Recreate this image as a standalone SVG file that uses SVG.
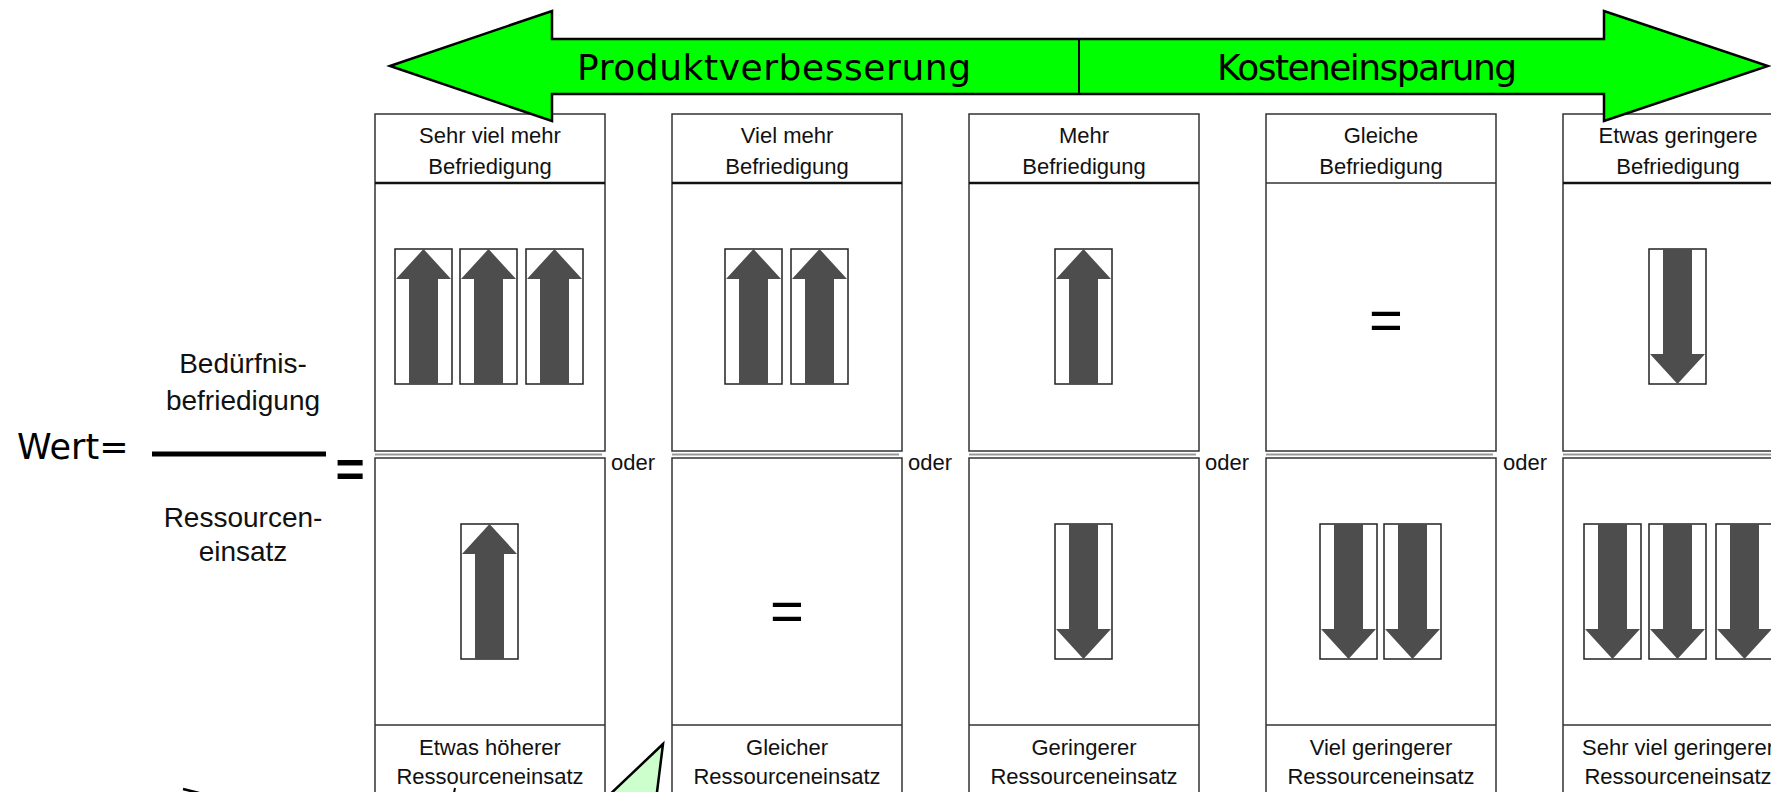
<svg xmlns="http://www.w3.org/2000/svg" xmlns:xlink="http://www.w3.org/1999/xlink" width="1771" height="792" viewBox="0 0 1771 792">
<style>
.box{fill:#fff;stroke:#333;stroke-width:1.5}
.hl{stroke:#111;stroke-width:2.5}
.fl{stroke:#333;stroke-width:1.5}
.gl{stroke:#999;stroke-width:2}
.t{font-family:"Liberation Sans",Arial,sans-serif;font-size:22px;fill:#111;text-anchor:middle}
.oder{font-family:"Liberation Sans",Arial,sans-serif;font-size:22px;fill:#111}
.big{font-family:"DejaVu Sans",Verdana,sans-serif;font-size:36px;fill:#000;text-anchor:middle}
.frac{font-family:"Liberation Sans",Arial,sans-serif;font-size:28px;fill:#111;text-anchor:middle}
.eq{font-family:"Liberation Sans",Arial,sans-serif;font-size:58px;fill:#000;text-anchor:middle}
</style>
<defs>
<g id="up">
<rect x="0" y="0" width="57" height="135" fill="#fff" stroke="#222" stroke-width="1.5"/>
<polygon points="28.5,0 56,30 43,30 43,135 14,135 14,30 1,30" fill="#4d4d4d"/>
</g>
<g id="down">
<rect x="0" y="0" width="57" height="135" fill="#fff" stroke="#222" stroke-width="1.5"/>
<polygon points="14,0 43,0 43,105 56,105 28.5,135 1,105 14,105" fill="#4d4d4d"/>
</g>
</defs>
<rect width="1771" height="792" fill="#fff"/>

<g id="formula">
<text x="17" y="459" font-family="'DejaVu Sans',Verdana,sans-serif" font-size="35" fill="#000">Wert=</text>
<text class="frac" x="243" y="373">Bedürfnis-</text>
<text class="frac" x="243" y="410">befriedigung</text>
<line x1="152" y1="454" x2="326" y2="454" stroke="#000" stroke-width="5"/>
<text class="frac" x="243" y="527">Ressourcen-</text>
<text class="frac" x="243" y="561">einsatz</text>
<text x="350" y="487" font-family="'Liberation Sans',Arial,sans-serif" font-size="50" font-weight="bold" text-anchor="middle" fill="#000">=</text>
</g>

<g id="col1">
<rect class="box" x="375" y="114" width="230" height="337"/>
<line class="hl" x1="375" y1="183" x2="605" y2="183"/>
<line class="gl" x1="375" y1="454.5" x2="602" y2="454.5"/>
<rect class="box" x="375" y="458" width="230" height="360"/>
<line class="fl" x1="375" y1="725" x2="605" y2="725"/>
<text class="t" x="490" y="143">Sehr viel mehr</text>
<text class="t" x="490" y="174">Befriedigung</text>
<use xlink:href="#up" x="395" y="249"/>
<use xlink:href="#up" x="460" y="249"/>
<use xlink:href="#up" x="526" y="249"/>
<use xlink:href="#up" x="461" y="524"/>
<text class="t" x="490" y="755">Etwas höherer</text>
<text class="t" x="490" y="784">Ressourceneinsatz</text>
</g>
<text class="oder" x="611" y="470">oder</text>

<g id="col2">
<rect class="box" x="672" y="114" width="230" height="337"/>
<line class="hl" x1="672" y1="183" x2="902" y2="183"/>
<line class="gl" x1="672" y1="454.5" x2="899" y2="454.5"/>
<rect class="box" x="672" y="458" width="230" height="360"/>
<line class="fl" x1="672" y1="725" x2="902" y2="725"/>
<text class="t" x="787" y="143">Viel mehr</text>
<text class="t" x="787" y="174">Befriedigung</text>
<use xlink:href="#up" x="725" y="249"/>
<use xlink:href="#up" x="791" y="249"/>
<text class="eq" x="787" y="631">=</text>
<text class="t" x="787" y="755">Gleicher</text>
<text class="t" x="787" y="784">Ressourceneinsatz</text>
</g>
<text class="oder" x="908" y="470">oder</text>

<g id="col3">
<rect class="box" x="969" y="114" width="230" height="337"/>
<line class="hl" x1="969" y1="183" x2="1199" y2="183"/>
<line class="gl" x1="969" y1="454.5" x2="1196" y2="454.5"/>
<rect class="box" x="969" y="458" width="230" height="360"/>
<line class="fl" x1="969" y1="725" x2="1199" y2="725"/>
<text class="t" x="1084" y="143">Mehr</text>
<text class="t" x="1084" y="174">Befriedigung</text>
<use xlink:href="#up" x="1055" y="249"/>
<use xlink:href="#down" x="1055" y="524"/>
<text class="t" x="1084" y="755">Geringerer</text>
<text class="t" x="1084" y="784">Ressourceneinsatz</text>
</g>
<text class="oder" x="1205" y="470">oder</text>

<g id="col4">
<rect class="box" x="1266" y="114" width="230" height="337"/>
<line class="fl" x1="1266" y1="183" x2="1496" y2="183"/>
<line class="gl" x1="1266" y1="454.5" x2="1493" y2="454.5"/>
<rect class="box" x="1266" y="458" width="230" height="360"/>
<line class="fl" x1="1266" y1="725" x2="1496" y2="725"/>
<text class="t" x="1381" y="143">Gleiche</text>
<text class="t" x="1381" y="174">Befriedigung</text>
<text class="eq" x="1386" y="340">=</text>
<use xlink:href="#down" x="1320" y="524"/>
<use xlink:href="#down" x="1384" y="524"/>
<text class="t" x="1381" y="755">Viel geringerer</text>
<text class="t" x="1381" y="784">Ressourceneinsatz</text>
</g>
<text class="oder" x="1503" y="470">oder</text>

<g id="col5">
<rect class="box" x="1563" y="114" width="230" height="337"/>
<line class="hl" x1="1563" y1="183" x2="1793" y2="183"/>
<line class="gl" x1="1563" y1="454.5" x2="1790" y2="454.5"/>
<rect class="box" x="1563" y="458" width="230" height="360"/>
<line class="fl" x1="1563" y1="725" x2="1793" y2="725"/>
<text class="t" x="1678" y="143">Etwas geringere</text>
<text class="t" x="1678" y="174">Befriedigung</text>
<use xlink:href="#down" x="1649" y="249"/>
<use xlink:href="#down" x="1584" y="524"/>
<use xlink:href="#down" x="1649" y="524"/>
<use xlink:href="#down" x="1716" y="524"/>
<text class="t" x="1678" y="755">Sehr viel geringerer</text>
<text class="t" x="1678" y="784">Ressourceneinsatz</text>
</g>

<g id="banner">
<polygon points="390,66 552,11 552,39 1604,39 1604,11 1768,66 1604,121 1604,94 552,94 552,121" fill="#00ff00" stroke="#000" stroke-width="2.5" stroke-linejoin="miter"/>
<line x1="1079" y1="39" x2="1079" y2="94" stroke="#000" stroke-width="2"/>
<text class="big" x="774" y="80" textLength="394">Produktverbesserung</text>
<text class="big" x="1367" y="80" textLength="300">Kosteneinsparung</text>
</g>

<g id="connectors">
<polygon points="663,744 604,800 656,800" fill="#ccffcc" stroke="#000" stroke-width="2.5"/>
<line x1="183" y1="789" x2="199" y2="793" stroke="#000" stroke-width="2.5"/>
<line x1="455" y1="788" x2="454" y2="793" stroke="#000" stroke-width="2"/>
</g>
</svg>
